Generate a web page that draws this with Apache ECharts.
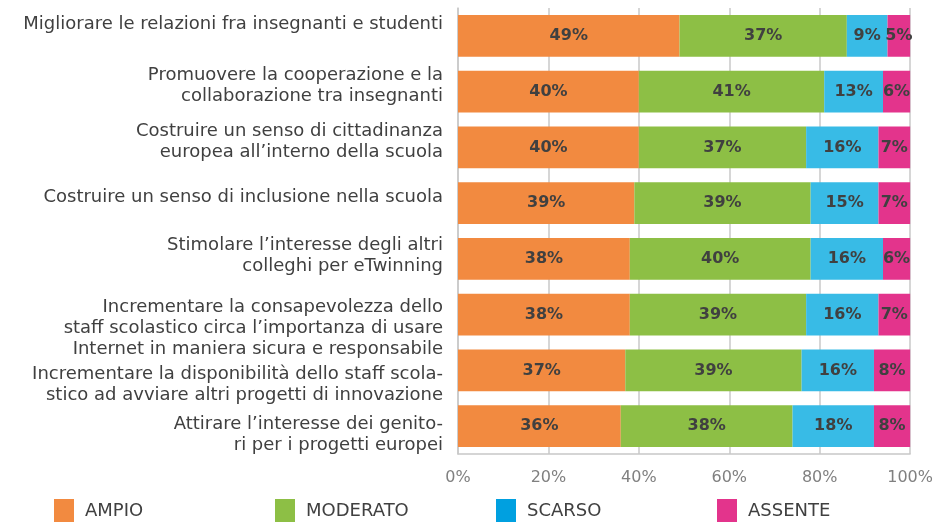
<!DOCTYPE html>
<html><head><meta charset="utf-8">
<script src="https://cdn.jsdelivr.net/npm/echarts@6/dist/echarts.min.js"></script>
<style>html,body{margin:0;padding:0;background:#fff}#c{width:936px;height:522px}</style>
</head><body><div id="c"></div>
<script>
const categories = [
  "Migliorare le relazioni fra insegnanti e studenti",
  "Promuovere la cooperazione e la\ncollaborazione tra insegnanti",
  "Costruire un senso di cittadinanza\neuropea all’interno della scuola",
  "Costruire un senso di inclusione nella scuola",
  "Stimolare l’interesse degli altri\ncolleghi per eTwinning",
  "Incrementare la consapevolezza dello\nstaff scolastico circa l’importanza di usare\nInternet in maniera sicura e responsabile",
  "Incrementare la disponibilità dello staff scola-\nstico ad avviare altri progetti di innovazione",
  "Attirare l’interesse dei genito-\nri per i progetti europei"
];
const seriesNames = ["AMPIO", "MODERATO", "SCARSO", "ASSENTE"];
const ampio    = [49, 40, 40, 39, 38, 38, 37, 36];
const moderato = [37, 41, 37, 39, 40, 39, 39, 38];
const scarso   = [9, 13, 16, 15, 16, 16, 16, 18];
const assente  = [5, 6, 7, 7, 6, 7, 8, 8];
const xTicks = [0, 20, 40, 60, 80, 100];

// vertical offset of each category label relative to its bar centre (px, + = down)
const labelShift = [-12, -6, -6, -6, -3, 14, 14, 9];
const colors = ["#F28A40", "#8DBF45", "#38BBE6", "#E3348C"];
const legendColors = ["#F28A40", "#8DBF45", "#00A0E0", "#E3348C"];
const FONT = "DejaVu Sans";

const rich = {};
labelShift.forEach((s, i) => {
  rich['sp' + i] = { fontSize: 1, lineHeight: Math.max(1, Math.abs(2 * s)), padding: 0 };
});
function fmtLabel(value, idx) {
  const s = labelShift[idx];
  const lines = value.split('\n').map(l => '{t|' + l + '}').join('\n');
  if (s < 0) return lines + '\n{sp' + idx + '| }';
  if (s > 0) return '{sp' + idx + '| }\n' + lines;
  return lines;
}
rich.t = { fontFamily: FONT, fontSize: 18, color: '#404040', lineHeight: 21, align: 'right' };

const values = [ampio, moderato, scarso, assente];
const chart = echarts.init(document.getElementById('c'), null, { renderer: 'canvas' });
const legendLeft = [54, 275, 496, 717];
chart.setOption({
  animation: false,
  grid: { left: 458, right: 23, top: 8, bottom: 68, containLabel: false },
  legend: seriesNames.map((n, i) => ({
    data: [{ name: n, itemStyle: { color: legendColors[i] } }],
    left: legendLeft[i], top: 499, itemWidth: 20, itemHeight: 24, itemGap: 10, padding: 0,
    icon: 'rect', selectedMode: false,
    textStyle: { fontFamily: FONT, fontSize: 18, color: '#404040', padding: [4, 0, 0, 6] }
  })),
  xAxis: {
    type: 'value', min: 0, max: 100, interval: 20,
    axisLine: { show: true, lineStyle: { color: '#c8c8c8', width: 1.5 } },
    axisTick: { show: false },
    splitLine: { show: true, lineStyle: { color: '#c8c8c8', width: 1.5 } },
    axisLabel: { formatter: v => xTicks.includes(v) ? v + '%' : '', fontFamily: FONT, fontSize: 16, color: '#808080', margin: 16 }
  },
  yAxis: {
    type: 'category', inverse: true, data: categories,
    axisLine: { show: true, lineStyle: { color: '#c8c8c8', width: 1.5 } },
    axisTick: { show: false },
    axisLabel: { interval: 0, formatter: fmtLabel, rich: rich, fontFamily: FONT, fontSize: 18, color: '#404040', margin: 15, align: 'right' }
  },
  series: seriesNames.map((n, i) => ({
    name: n, type: 'bar', stack: 'total', data: values[i], barCategoryGap: '25%',
    itemStyle: { color: colors[i] },
    label: { show: true, position: 'inside', formatter: '{c}%', fontFamily: FONT, fontWeight: 'bold', fontSize: 16, color: '#404040' }
  }))
});
</script></body></html>
